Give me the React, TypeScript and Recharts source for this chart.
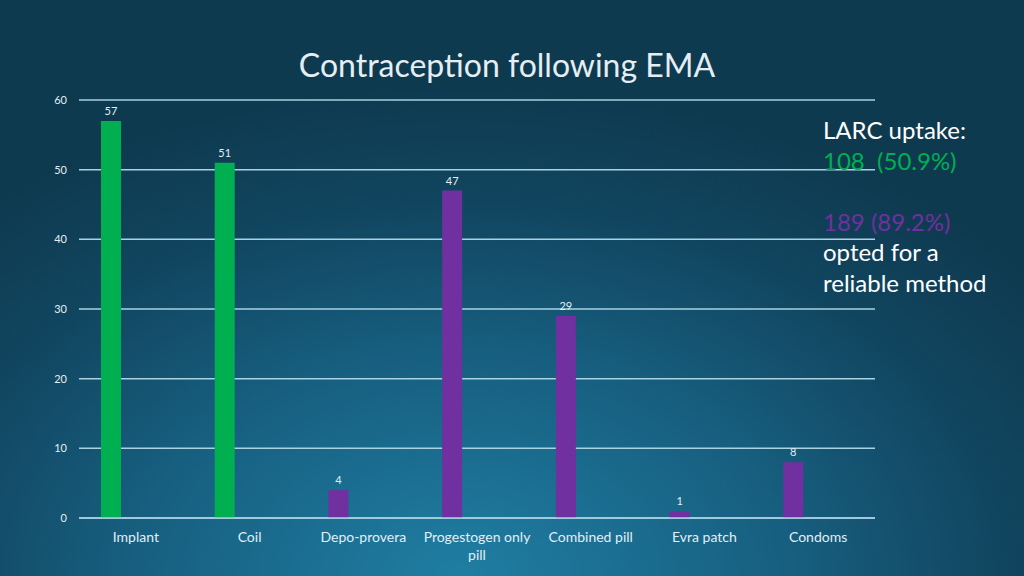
import { BarChart, Bar, XAxis, YAxis, CartesianGrid, LabelList, Cell, Text } from 'recharts';

const methods = ['Implant', 'Coil', 'Depo-provera', 'Progestogen only pill', 'Combined pill', 'Evra patch', 'Condoms'];
const counts = [57, 51, 4, 47, 29, 1, 8];
const isLarc = [true, true, false, false, false, false, false];
const yTicks = [0, 10, 20, 30, 40, 50, 60];

const GREEN = '#00b050';
const PURPLE = '#7030a0';
const TEXT = '#e4eef3';
const FONT = 'Lato, "Open Sans", sans-serif';

const data = methods.map((name, i) => ({ name, count: counts[i] }));

const MethodTick = (props: any) => {
  const { x, y, payload } = props;
  return (
    <Text
      x={x}
      y={y}
      width={120}
      textAnchor="middle"
      verticalAnchor="start"
      fill={TEXT}
      fontSize={14}
      fontFamily={FONT}
      lineHeight={18}
    >
      {payload.value}
    </Text>
  );
};

export default function App() {
  return (
    <div
      style={{
        position: 'absolute',
        left: 0,
        top: 0,
        width: 1024,
        height: 576,
        overflow: 'hidden',
        fontFamily: FONT,
        background:
          'radial-gradient(ellipse 70% 85% at 45% 100%, #1f7ea3 0%, #175f80 45%, #114660 75%, #0e3a50 100%)',
      }}
    >
      <div
        style={{
          position: 'absolute',
          top: 45,
          left: 0,
          width: 1014,
          textAlign: 'center',
          color: TEXT,
          fontSize: 32,
          letterSpacing: 0,
        }}
      >
        Contraception following EMA
      </div>
      <BarChart
        width={1024}
        height={576}
        data={data}
        margin={{ top: 100, right: 149, left: 0, bottom: 28 }}
        barGap={5}
        barSize={20}
      >
        <CartesianGrid vertical={false} stroke="#a9d2e2" strokeWidth={1.5} />
        <XAxis
          dataKey="name"
          height={30}
          axisLine={{ stroke: '#a9d2e2', strokeWidth: 1.5 }}
          tickLine={false}
          interval={0}
          tick={<MethodTick />}
          tickMargin={8}
        />
        <YAxis
          width={79}
          domain={[0, 60]}
          ticks={yTicks}
          axisLine={false}
          tickLine={false}
          tickSize={0}
          tickMargin={12}
          tick={{ fill: TEXT, fontSize: 11, fontFamily: FONT }}
        />
        <Bar dataKey="count" isAnimationActive={false}>
          {data.map((_, i) => (
            <Cell key={i} fill={isLarc[i] ? GREEN : PURPLE} />
          ))}
          <LabelList dataKey="count" position="top" offset={6} fill={TEXT} fontSize={11} fontFamily={FONT} />
        </Bar>
        <Bar dataKey="spacerA" isAnimationActive={false} />
        <Bar dataKey="spacerB" isAnimationActive={false} />
      </BarChart>
      <div
        style={{
          position: 'absolute',
          left: 823,
          top: 115,
          fontSize: 24,
          lineHeight: '30.5px',
          color: '#ffffff',
        }}
      >
        <div>LARC uptake:</div>
        <div style={{ color: GREEN }}>108&nbsp; (50.9%)</div>
        <div>&nbsp;</div>
        <div style={{ color: PURPLE }}>189 (89.2%)</div>
        <div>opted for a</div>
        <div>reliable method</div>
      </div>
    </div>
  );
}
